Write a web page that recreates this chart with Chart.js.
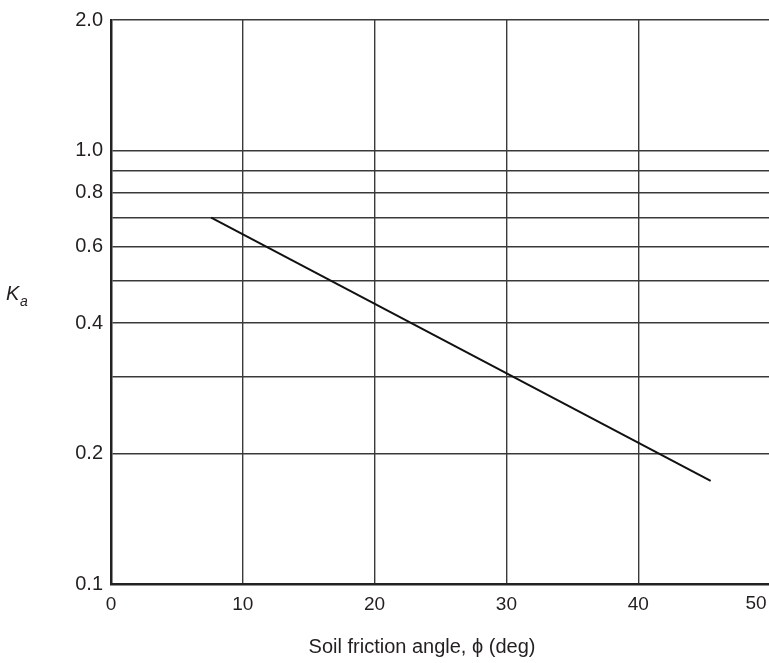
<!DOCTYPE html>
<html>
<head>
<meta charset="utf-8">
<script src="https://cdn.jsdelivr.net/npm/chart.js@4"></script>
<style>
  html, body { margin: 0; padding: 0; background: #fff; overflow: hidden; }
  #wrap { position: absolute; left: 0; top: 0; width: 790px; height: 663px; }
</style>
</head>
<body>
<div id="wrap"><canvas id="myChart" width="790" height="663"></canvas></div>
<script>
// friction angle (deg) vs Ka
let phi = [7.6, 45.5];
let ka = [0.70, 0.173];
let yTicks = [0.1, 0.2, 0.3, 0.4, 0.5, 0.6, 0.7, 0.8, 0.9, 1.0, 2.0];
let yLabels = [0.1, 0.2, 0.4, 0.6, 0.8, 1.0, 2.0];
let xTitle = 'Soil friction angle, ϕ (deg)';

let textColor = '#231f20';
let gridColor = '#3a3a3a';
let fontFamily = '"Liberation Sans", Arial, sans-serif';

// Ka label (unrotated), the x-axis title and the last x label, which sits
// a bit left of its tick so it stays inside the page
let labels = {
  id: 'labels',
  afterDraw(chart) {
    let c = chart.ctx;
    let xs = chart.scales.x;
    c.save();
    c.fillStyle = textColor;
    c.textBaseline = 'alphabetic';
    c.font = 'italic 20px ' + fontFamily;
    c.fillText('K', 6, 300);
    c.font = 'italic 14px ' + fontFamily;
    c.fillText('a', 20, 306);
    c.font = '20px ' + fontFamily;
    c.textAlign = 'center';
    c.fillText(xTitle, 422, 653);
    c.font = '19px ' + fontFamily;
    c.textBaseline = 'middle';
    c.fillText(String(xs.max), xs.getPixelForValue(xs.max) - 14, xs.top + 20);
    c.restore();
  }
};

let ctx = document.getElementById('myChart').getContext('2d');

let myChart = new Chart(ctx, {
  type: 'scatter',
  data: {
    datasets: [{
      data: phi.map((p, i) => ({ x: p, y: ka[i] })),
      showLine: true,
      borderColor: '#111',
      borderWidth: 2,
      pointRadius: 0,
      fill: false
    }]
  },
  options: {
    responsive: false,
    animation: false,
    layout: { padding: { left: 0, right: 20, top: 14, bottom: 0 } },
    plugins: {
      legend: { display: false },
      tooltip: { enabled: false }
    },
    scales: {
      x: {
        type: 'linear',
        min: 0,
        max: 50,
        ticks: {
          stepSize: 10,
          padding: 9,
          color: textColor,
          font: { family: fontFamily, size: 19 },
          callback: (v) => v === 50 ? '' : String(v)
        },
        grid: { color: gridColor, lineWidth: 1.4, drawTicks: false },
        border: { color: '#222', width: 2.5 },
        afterFit: (scale) => { scale.height = 79; }
      },
      y: {
        type: 'logarithmic',
        min: 0.1,
        max: 2.0,
        afterBuildTicks: (scale) => {
          scale.ticks = yTicks.map(v => ({ value: v }));
        },
        ticks: {
          padding: 8,
          color: textColor,
          autoSkip: false,
          font: { family: fontFamily, size: 20 },
          callback: (v) => yLabels.includes(v) ? v.toFixed(1) : ''
        },
        grid: { color: gridColor, lineWidth: 1.4, drawTicks: false },
        border: { color: '#222', width: 2.5 },
        afterFit: (scale) => { scale.width = 111; }
      }
    }
  },
  plugins: [labels]
});
</script>
</body>
</html>
